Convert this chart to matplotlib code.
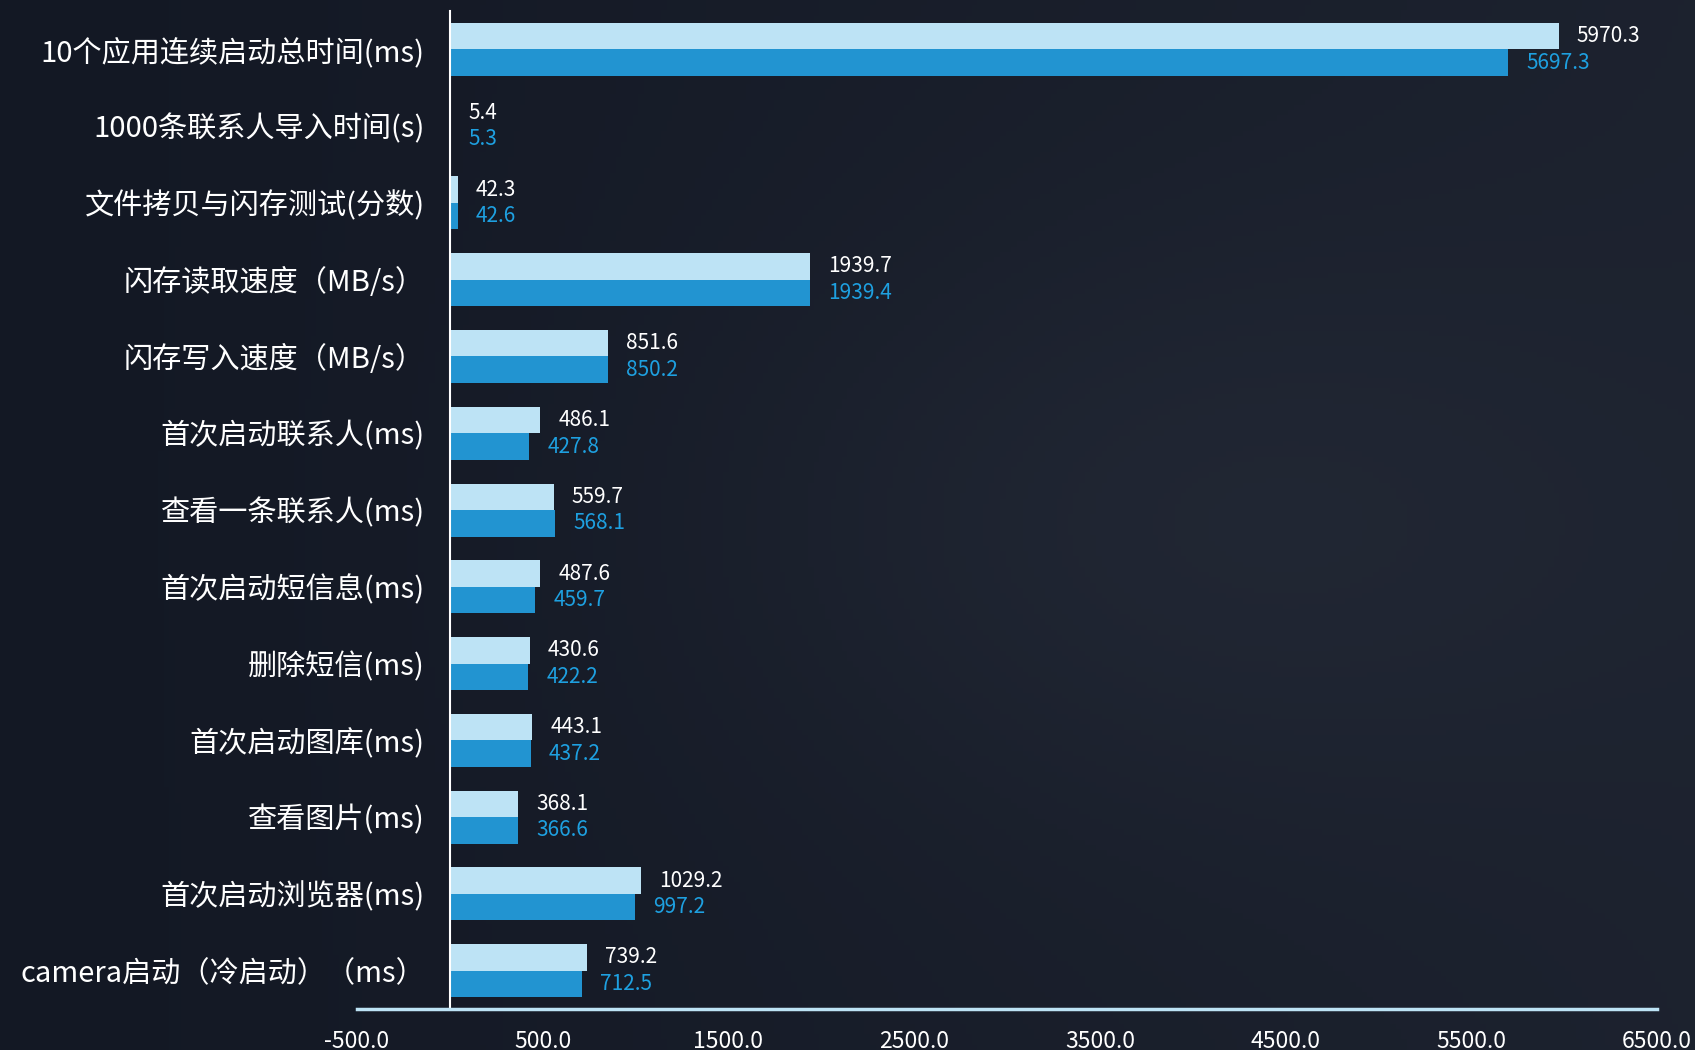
import numpy as np
import matplotlib
matplotlib.use("Agg")
import matplotlib.pyplot as plt

plt.rcParams['font.family'] = ['Noto Sans CJK SC', 'DejaVu Sans']

categories = [
    "10个应用连续启动总时间(ms)",
    "1000条联系人导入时间(s)",
    "文件拷贝与闪存测试(分数)",
    "闪存读取速度（MB/s）",
    "闪存写入速度（MB/s）",
    "首次启动联系人(ms)",
    "查看一条联系人(ms)",
    "首次启动短信息(ms)",
    "删除短信(ms)",
    "首次启动图库(ms)",
    "查看图片(ms)",
    "首次启动浏览器(ms)",
    "camera启动（冷启动）（ms）",
]
series_a = [5970.3, 5.4, 42.3, 1939.7, 851.6, 486.1, 559.7, 487.6, 430.6, 443.1, 368.1, 1029.2, 739.2]
series_b = [5697.3, 5.3, 42.6, 1939.4, 850.2, 427.8, 568.1, 459.7, 422.2, 437.2, 366.6, 997.2, 712.5]
xticks = np.arange(-500, 6501, 1000)

bg = "#171c27"
light = "#bde3f5"
dark = "#2294d1"
label_blue = "#1ea0e0"

fig = plt.figure(figsize=(16.95, 10.5), dpi=100, facecolor=bg)

# soft background shading
bg_ax = fig.add_axes([0, 0, 1, 1], zorder=-1)
yy, xx = np.mgrid[0:1:200j, 0:1:300j]
shade = 0.35 * xx + 0.25 * np.exp(-((xx - 0.7) ** 2 + (yy - 0.5) ** 2) / 0.08)
bg_ax.imshow(shade, cmap=matplotlib.colors.LinearSegmentedColormap.from_list(
    "bg", ["#131824", "#232936"]), aspect="auto", extent=[0, 1, 0, 1], vmin=0, vmax=0.6)
bg_ax.axis("off")

ax = fig.add_axes([0.2106, 0.039, 0.767, 0.9505])
ax.set_facecolor("none")

for s in ["top", "right"]:
    ax.spines[s].set_visible(False)
# zero line carries the category labels
ax.spines["left"].set_position(("data", 0))
ax.spines["left"].set_color("white")
ax.spines["left"].set_linewidth(1.5)
ax.spines["bottom"].set_color(light)
ax.spines["bottom"].set_linewidth(2.5)

n = len(categories)
y = np.arange(n)[::-1]
h = 0.345

ax.barh(y + h / 2, series_a, height=h, color=light, zorder=2)
ax.barh(y - h / 2, series_b, height=h, color=dark, zorder=2)

for yi, va, vb in zip(y, series_a, series_b):
    ax.annotate(f"{va:.1f}", (va, yi + h / 2), xytext=(13, 0), textcoords="offset points",
                va="center", ha="left", color="white", fontsize=15)
    ax.annotate(f"{vb:.1f}", (vb, yi - h / 2), xytext=(13, 0), textcoords="offset points",
                va="center", ha="left", color=label_blue, fontsize=15)

ax.set_xlim(-500, 6500)
ax.set_ylim(-0.5, n - 0.5)
ax.set_xticks(xticks)
ax.set_xticklabels([f"{t:.1f}" for t in xticks])
ax.set_yticks(y)
ax.set_yticklabels(categories)
ax.tick_params(axis="both", length=0, labelcolor="white")
ax.tick_params(axis="x", pad=15, labelsize=16.5)
ax.tick_params(axis="y", pad=18, labelsize=21)

fig.savefig("out.png", dpi=100, facecolor=bg)
